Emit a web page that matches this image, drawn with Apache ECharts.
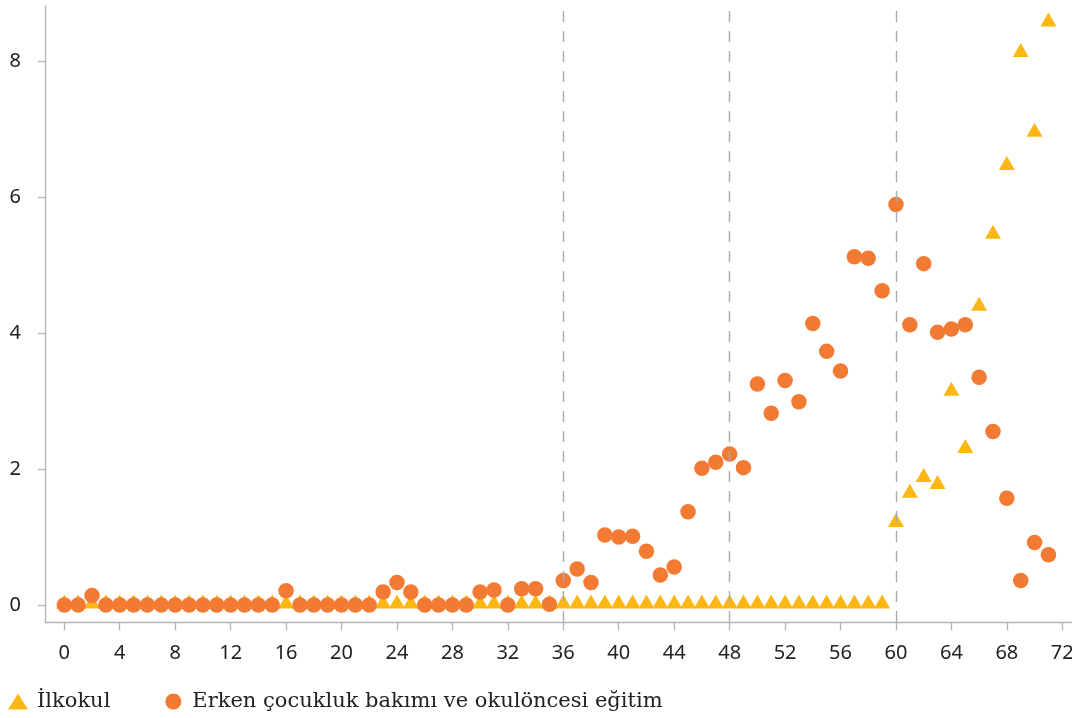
<!DOCTYPE html>
<html>
<head>
<meta charset="utf-8">
<script src="https://cdn.jsdelivr.net/npm/echarts@6/dist/echarts.min.js"></script>
<style>
html,body{margin:0;padding:0;background:#fff;}
#chart{width:1072px;height:718px;}
</style>
</head>
<body>
<div id="chart"></div>
<script>
// Age in months (x)
const ages = [0,1,2,3,4,5,6,7,8,9,10,11,12,13,14,15,16,17,18,19,20,21,22,23,24,25,26,27,28,29,30,31,32,33,34,35,36,37,38,39,40,41,42,43,44,45,46,47,48,49,50,51,52,53,54,55,56,57,58,59,60,61,62,63,64,65,66,67,68,69,70,71];
// İlkokul values
const ilkokul = [0.05,0.05,0.05,0.05,0.05,0.05,0.05,0.05,0.05,0.05,0.05,0.05,0.05,0.05,0.05,0.05,0.05,0.05,0.05,0.05,0.05,0.05,0.05,0.05,0.05,0.05,0.05,0.05,0.05,0.05,0.05,0.05,0.05,0.05,0.05,0.05,0.05,0.05,0.05,0.05,0.05,0.05,0.05,0.05,0.05,0.05,0.05,0.05,0.05,0.05,0.05,0.05,0.05,0.05,0.05,0.05,0.05,0.05,0.05,0.05,
  1.25,1.68,1.91,1.81,3.18,2.34,4.43,5.49,6.50,8.16,6.99,8.61];
// Erken çocukluk bakımı ve okulöncesi eğitim values
const erken = [0,0,0.14,0,0,0,0,0,0,0,0,0,0,0,0,0,0.21,0,0,0,0,0,0,0.19,0.33,0.19,0,0,0,0,0.19,0.22,0,0.24,0.24,0.01,
  0.36,0.53,0.33,1.03,1.00,1.01,0.79,0.44,0.56,1.37,2.01,2.10,2.22,2.02,3.25,2.82,3.30,2.99,4.14,3.73,3.44,5.12,5.10,4.62,
  5.89,4.12,5.02,4.01,4.06,4.12,3.35,2.55,1.57,0.36,0.92,0.74];
const dividers = [36, 48, 60];
const xTicks = {min: 0, max: 72, interval: 4};
const yTicks = {min: 0, max: 8, interval: 2};
const names = ['İlkokul', 'Erken çocukluk bakımı ve okulöncesi eğitim'];

const yellow = '#FDB714';
const orange = '#F37A32';
const axisGray = '#b3b3b3';
const labelFont = '"Noto Sans", sans-serif';

const chart = echarts.init(document.getElementById('chart'));
chart.setOption({
  animation: false,
  backgroundColor: '#fff',
  legend: {
    data: [
      {name: names[0], icon: 'triangle'},
      {name: names[1], icon: 'circle'}
    ],
    left: 8, bottom: 6, padding: 0,
    itemWidth: 20, itemHeight: 16, itemGap: 55,
    textStyle: {fontFamily: '"DejaVu Serif", serif', fontSize: 21, color: '#222', padding: [0, 0, 0, 4]}
  },
  grid: [
    {left: 45, right: 0, top: 6, bottom: 96, outerBoundsMode: 'none', containLabel: false},
    {left: 64.3, right: 9.7, top: 61, bottom: 113, outerBoundsMode: 'none', containLabel: false}
  ],
  xAxis: [
    {gridIndex: 0, type: 'value', min: -1.4, max: 72.7,
     axisLine: {show: true, onZero: false, lineStyle: {color: axisGray, width: 1.3}},
     axisTick: {show: false}, axisLabel: {show: false}, splitLine: {show: false}},
    {gridIndex: 1, type: 'value', min: xTicks.min, max: xTicks.max, interval: xTicks.interval,
     offset: 17.3,
     axisLine: {show: false, onZero: false},
     axisTick: {show: true, length: 8, lineStyle: {color: axisGray, width: 1.3}},
     axisLabel: {margin: 21, fontFamily: labelFont, fontSize: 20, color: '#222'},
     splitLine: {show: false}}
  ],
  yAxis: [
    {gridIndex: 0, type: 'value', min: -0.25, max: 8.81,
     axisLine: {show: true, onZero: false, lineStyle: {color: axisGray, width: 1.3}},
     axisTick: {show: false}, axisLabel: {show: false}, splitLine: {show: false}},
    {gridIndex: 1, type: 'value', min: yTicks.min, max: yTicks.max, interval: yTicks.interval,
     offset: 19.3,
     axisLine: {show: false, onZero: false},
     axisTick: {show: true, length: 7, lineStyle: {color: axisGray, width: 1.3}},
     axisLabel: {margin: 24, fontFamily: labelFont, fontSize: 20, color: '#222'},
     splitLine: {show: false}}
  ],
  series: [
    {
      name: 'dividers', type: 'line', xAxisIndex: 0, yAxisIndex: 0, data: [],
      markLine: {
        silent: true, symbol: 'none', label: {show: false},
        lineStyle: {color: '#aaaaaa', width: 1.4, type: [11, 9]},
        data: dividers.map(v => ({xAxis: v}))
      }
    },
    {
      name: names[0], type: 'scatter', xAxisIndex: 1, yAxisIndex: 1, clip: false,
      symbol: 'triangle', symbolSize: [16, 14],
      itemStyle: {color: yellow, opacity: 1},
      data: ages.map((a, i) => [a, ilkokul[i]])
    },
    {
      name: names[1], type: 'scatter', xAxisIndex: 1, yAxisIndex: 1, clip: false,
      symbol: 'circle', symbolSize: 15.5,
      itemStyle: {color: orange, opacity: 1},
      data: ages.map((a, i) => [a, erken[i]])
    }
  ]
});
</script>
</body>
</html>
